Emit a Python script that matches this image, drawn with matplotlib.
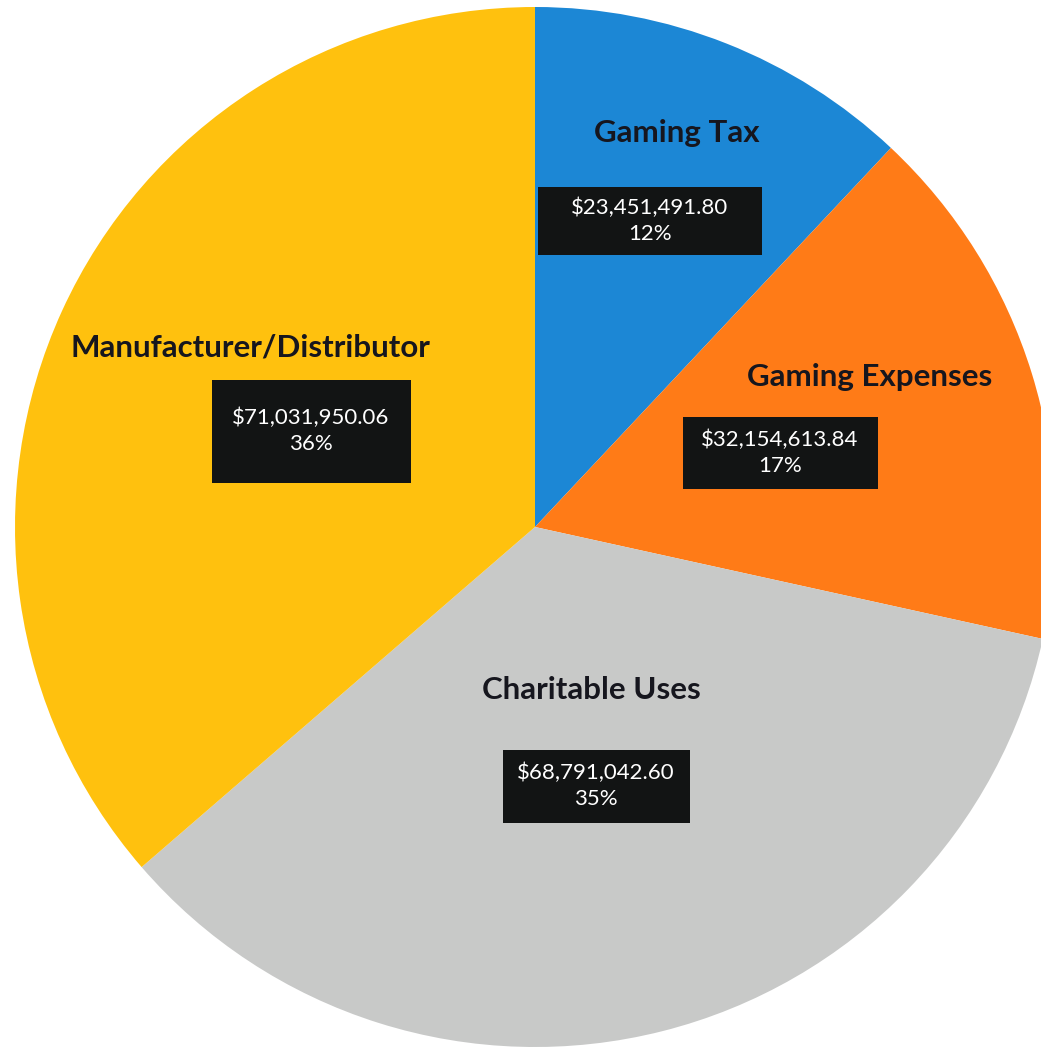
"""Pie chart of gaming revenue distribution."""

import matplotlib
matplotlib.use("Agg")
import matplotlib.pyplot as plt
from matplotlib.patches import Rectangle

categories = ["Gaming Tax", "Gaming Expenses", "Charitable Uses", "Manufacturer/Distributor"]
amounts = [23451491.80, 32154613.84, 68791042.60, 71031950.06]
pct_labels = ["12%", "17%", "35%", "36%"]
colors = ["#1C87D5", "#FF7B17", "#C8C9C8", "#FFC10E"]

# label / value-box placement in pixels of the original picture (layout only)
W, H = 1041, 1053
CX, CY, R = 535, 527, 520
name_px = [(677, 133), (870, 377), (591, 690), (250, 347)]
box_px = [(650, 221), (780, 453), (596, 786), (311, 431)]
box_size_px = [(224, 68), (195, 72), (187, 73), (199, 103)]


def to_data(px, py):
    return (px - CX) / R, (CY - py) / R


fig = plt.figure(figsize=(W / 100, H / 100), dpi=100)
ax = fig.add_axes([0, 0, 1, 1])
ax.pie(amounts, colors=colors, startangle=90, counterclock=False, radius=1,
       wedgeprops={"linewidth": 0})
ax.set_xlim(-CX / R, (W - CX) / R)
ax.set_ylim(-(H - CY) / R, CY / R)
ax.set_aspect("equal")
ax.axis("off")

for name, amt, pct, npos, bpos, bsize in zip(categories, amounts, pct_labels,
                                              name_px, box_px, box_size_px):
    ax.text(*to_data(*npos), name, ha="center", va="center", fontsize=22.5,
            fontweight="bold", family="Lato", color="#16161e")
    bx, by = to_data(*bpos)
    bw, bh = bsize[0] / R, bsize[1] / R
    ax.add_patch(Rectangle((bx - bw / 2, by - bh / 2), bw, bh,
                           facecolor="#121414", edgecolor="none", zorder=3))
    ax.text(bx, by, f"${amt:,.2f}\n{pct}", ha="center", va="center",
            fontsize=16, family="Lato", color="white", linespacing=1.35,
            zorder=4)

fig.savefig("out.png", dpi=100)
